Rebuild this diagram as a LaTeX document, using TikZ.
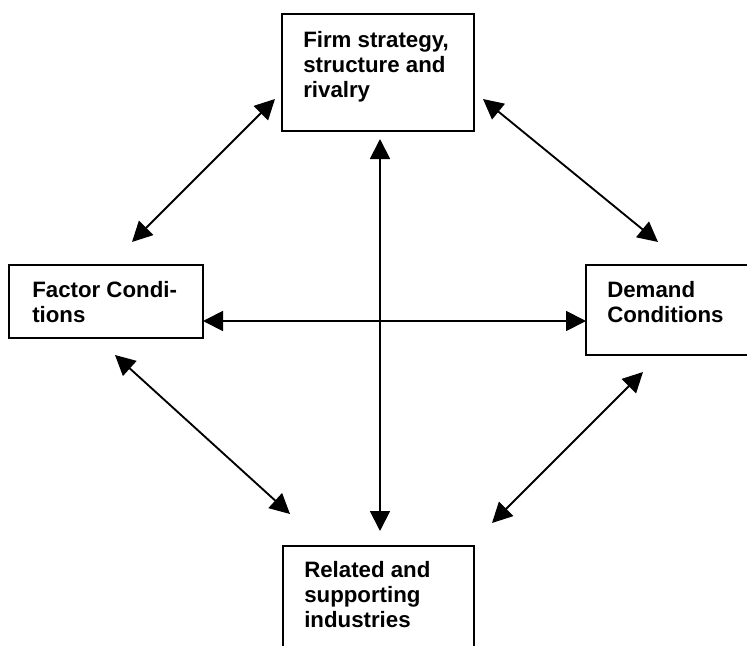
\documentclass[tikz,border=0pt]{standalone}
\usepackage{fontspec}
\setmainfont{Liberation Sans}
\usetikzlibrary{arrows.meta}

\begin{document}
\begin{tikzpicture}[
            x=0.75pt, y=-0.75pt,
            box/.style={draw, line width=1.5pt, outer sep=0pt, inner sep=0pt},
            boxtext/.style={anchor=base west, inner sep=0pt, align=left, font=\fontsize{16.7}{18.75}\selectfont\bfseries},
            arrow/.style={{Triangle[length=15pt,width=15pt]}-{Triangle[length=15pt,width=15pt]}, line width=1.4pt}
        ]
        \clip (0,0) rectangle (747,646);

        % --- LES QUATRE BOITES ---
        \node[box, minimum width=144pt, minimum height=87.75pt] (firm) at (378,72.5) {};
        \node[box, minimum width=145.5pt, minimum height=54.75pt] (factor) at (106,301.5) {};
        \node[box, minimum width=130.5pt, minimum height=67.5pt] (demand) at (673,310) {};
        \node[box, minimum width=143.25pt, minimum height=87.75pt] (related) at (378.5,604.5) {};

        % --- TEXTES (ancre sur la derniere ligne) ---
        \node[boxtext] (firmtext) at ([shift={(21,83)}]firm.north west) {Firm strategy,\\structure and\\rivalry};
        \node[boxtext] (factortext) at ([shift={(23,57)}]factor.north west) {Factor Condi-\\tions};
        \node[boxtext] (demandtext) at ([shift={(21,57)}]demand.north west) {Demand\\Conditions};
        \node[boxtext] (relatedtext) at ([shift={(21,81)}]related.north west) {Related and\\supporting\\industries};

        % --- FLECHES ---
        \draw[arrow] ([shift={(-7,-32)}]firm.south west) -- ([shift={(26,-23)}]factor.north);
        \draw[arrow] ([shift={(9,-32)}]firm.south east) -- ([shift={(72,-23)}]demand.north west);
        \draw[arrow] ([shift={(9,17)}]factor.south) -- ([shift={(7,-32)}]related.north west);
        \draw[arrow] ([shift={(57,17)}]demand.south west) -- ([shift={(18,-23)}]related.north east);
        \draw[arrow] ([shift={(2,8)}]firm.south) -- ([shift={(1.5,-15)}]related.north);
        \draw[arrow] ([shift={(0,19.5)}]factor.east) -- ([shift={(0,11)}]demand.west);

    \end{tikzpicture}
\end{document}
